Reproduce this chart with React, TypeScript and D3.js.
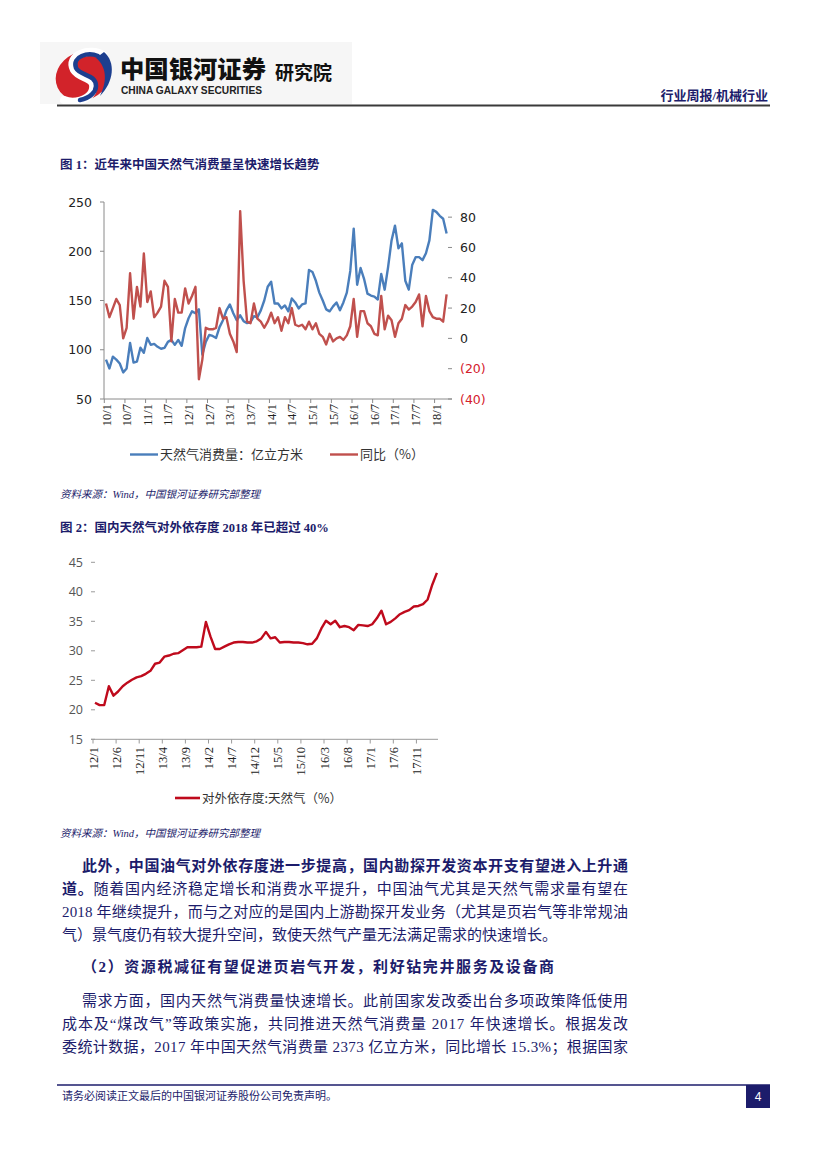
import React from "react";
import * as d3 from "d3";

// ---------- Chart 1 data (monthly, 2010/1 – 2018/4) ----------
const consumption: number[] = [
  90, 81, 93, 90, 86, 77, 81, 107, 87, 88, 102, 97,
  112, 105, 106, 103, 101, 102, 108, 110, 105, 110, 104, 122,
  132, 139, 137, 141, 95, 108, 115, 114, 112, 123, 130, 140,
  146, 137, 130, 135, 129, 127, 128, 134, 133, 140, 150, 164,
  169, 147, 147, 142, 145, 139, 152, 148, 142, 146, 147, 181,
  179, 170, 158, 150, 141, 139, 144, 148, 140, 148, 158, 180,
  223, 166, 183, 172, 157, 155, 154, 151, 177, 161, 184, 211,
  226, 203, 208, 170, 161, 186, 194, 194, 191, 198, 211, 242,
  240, 236, 233, 218,
];
const yoy: number[] = [
  23, 14, 20, 26, 22, 0, 7, 43, 13, 34, 21, 56,
  24, 31, 14, 17, 21, 38, 34, -2, 26, 17, 17, 33,
  23, 28, 34, -27, -14, 7, 6, 6, 7, 20, 13, 14,
  3, -2, -9, 84, 38, 11, 10, 23, 13, 11, 7, 11,
  17, 10, 14, 5, 14, 10, 20, 9, 8, 9, 6, 11,
  6, 10, 3, 1, -4, 3, -2, 0, 1, -1, 2, 8,
  26, 1, 18, 18, 10, 8, 3, 2, 28, 6, 15, 12,
  1, 10, 13, 22, 19, 21, 24, 29, 8, 28, 18, 14,
  13, 13, 11, 29,
];
const xLabels1: string[] = [
  "10/1", "10/7", "11/1", "11/7", "12/1", "12/7", "13/1", "13/7", "14/1",
  "14/7", "15/1", "15/7", "16/1", "16/7", "17/1", "17/7", "18/1",
];
const leftTicks1: number[] = [50, 100, 150, 200, 250];
const rightTicks1: number[] = [-40, -20, 0, 20, 40, 60, 80];
const legend1: string[] = ["天然气消费量：亿立方米", "同比（%）"];

// ---------- Chart 2 data (monthly, 2012/1 – 2018/3) ----------
const dependency: number[] = [
  21.2, 20.8, 20.8, 24.0, 22.4, 23.1, 24.0, 24.6, 25.1, 25.5, 25.7, 26.1,
  26.6, 27.8, 28.0, 29.0, 29.2, 29.5, 29.6, 30.1, 30.6, 30.6, 30.6, 30.7,
  34.9, 32.4, 30.3, 30.3, 30.7, 31.1, 31.4, 31.5, 31.5, 31.4, 31.4, 31.6,
  32.1, 33.2, 32.1, 32.3, 31.4, 31.5, 31.5, 31.4, 31.4, 31.3, 31.1, 31.2,
  32.1, 33.8, 35.1, 34.5, 35.1, 34.0, 34.2, 34.0, 33.5, 34.4, 34.3, 34.2,
  34.5, 35.5, 36.8, 34.5, 34.9, 35.5, 36.2, 36.6, 36.9, 37.5, 37.6, 37.9,
  38.7, 41.2, 43.2,
];
const xLabels2: string[] = [
  "12/1", "12/6", "12/11", "13/4", "13/9", "14/2", "14/7", "14/12",
  "15/5", "15/10", "16/3", "16/8", "17/1", "17/6", "17/11",
];
const yTicks2: number[] = [15, 20, 25, 30, 35, 40, 45];
const legend2 = "对外依存度:天然气（%）";

const NAVY = "#1c1c6b";
const CJK = "'Liberation Serif','Noto Sans CJK SC',serif";
const CJKS = "'Noto Sans CJK SC',sans-serif";

function Chart1() {
  const x = d3.scaleLinear().domain([0, consumption.length - 1]).range([106, 446.6]);
  const yL = d3.scaleLinear().domain([50, 250]).range([399, 202]);
  const yR = d3.scaleLinear().domain([-40, 90]).range([399, 202]);
  const lineL = d3.line<number>().x((_, i) => x(i)).y((d) => yL(d));
  const lineR = d3.line<number>().x((_, i) => x(i)).y((d) => yR(d));
  const axisColor = "#8a8a8a";
  return (
    <g>
      <line x1={104} x2={104} y1={202} y2={399} stroke={axisColor} strokeWidth={1} />
      {leftTicks1.map((t) => (
        <g key={"l" + t}>
          <line x1={100} x2={104} y1={yL(t)} y2={yL(t)} stroke={axisColor} />
          <text x={92} y={yL(t) + 4.5} textAnchor="end" fontSize={12.5} fontFamily="'DejaVu Sans',sans-serif" fill="#222">
            {t}
          </text>
        </g>
      ))}
      {rightTicks1.map((t) => (
        <g key={"r" + t}>
          <line x1={448} x2={452} y1={yR(t)} y2={yR(t)} stroke={axisColor} />
          <text x={460} y={yR(t) + 4.5} fontSize={12.5} fontFamily="'DejaVu Sans',sans-serif" fill={t < 0 ? "#d4202c" : "#222"}>
            {t < 0 ? `(${Math.abs(t)})` : t}
          </text>
        </g>
      ))}
      <line x1={104} x2={452} y1={399} y2={399} stroke={axisColor} />
      {xLabels1.map((lab, k) => {
        const xi = x(k * 6);
        return (
          <g key={lab}>
            <line x1={xi - 1.7} x2={xi - 1.7} y1={399} y2={403} stroke={axisColor} />
            <text
              transform={`translate(${xi + 4.5},${404}) rotate(-90)`}
              textAnchor="end"
              fontSize={12.5}
              fontFamily="'Liberation Serif',serif"
              fill="#222"
            >
              {lab}
            </text>
          </g>
        );
      })}
      <path d={lineL(consumption) || ""} fill="none" stroke="#4a7ebb" strokeWidth={2.4} strokeLinejoin="round" />
      <path d={lineR(yoy) || ""} fill="none" stroke="#c0504d" strokeWidth={2.4} strokeLinejoin="round" />
      <line x1={130} x2={158} y1={454.5} y2={454.5} stroke="#4a7ebb" strokeWidth={2.4} />
      <text x={160} y={459} fontSize={13} fontFamily={CJKS} fill="#333">{legend1[0]}</text>
      <line x1={330} x2={358} y1={454.5} y2={454.5} stroke="#c0504d" strokeWidth={2.4} />
      <text x={360} y={459} fontSize={13} fontFamily={CJKS} fill="#333">{legend1[1]}</text>
    </g>
  );
}

function Chart2() {
  const x = d3.scaleLinear().domain([0, dependency.length - 1]).range([95, 436.9]);
  const y = d3.scaleLinear().domain([15, 45]).range([739.3, 562.3]);
  const line = d3.line<number>().x((_, i) => x(i)).y((d) => y(d));
  const axisColor = "#9a9a9a";
  return (
    <g>
      {yTicks2.map((t) => (
        <g key={t}>
          <line x1={91} x2={95} y1={y(t)} y2={y(t)} stroke={axisColor} />
          <text x={83} y={y(t) + 4.5} textAnchor="end" fontSize={12.5} fontFamily="'Open Sans',sans-serif" fill="#555">
            {t}
          </text>
        </g>
      ))}
      <line x1={91} x2={438} y1={739.3} y2={739.3} stroke={axisColor} />
      {xLabels2.map((lab, k) => {
        const xi = x(k * 5) - 2;
        return (
          <g key={lab}>
            <line x1={xi} x2={xi} y1={739.3} y2={743.5} stroke={axisColor} />
            <text
              transform={`translate(${xi + 4.5},${747}) rotate(-90)`}
              textAnchor="end"
              fontSize={12.5}
              fontFamily="'Liberation Serif',serif"
              fill="#222"
            >
              {lab}
            </text>
          </g>
        );
      })}
      <path d={line(dependency) || ""} fill="none" stroke="#bf0a1c" strokeWidth={2.4} strokeLinejoin="round" />
      <line x1={175} x2={200} y1={798} y2={798} stroke="#bf0a1c" strokeWidth={2.6} />
      <text x={202} y={802.5} fontSize={12.5} fontFamily={CJKS} fill="#333">{legend2}</text>
    </g>
  );
}

function Header() {
  return (
    <g>
      <rect x={40} y={42} width={312} height={62} fill="#f6f6f6" />
      <g>
        <ellipse cx={83} cy={76} rx={28} ry={24} fill="#d2232a" transform="rotate(-25 83 76)" />
        <path d="M103 55 C 90 47, 66 55, 74 70 C 80 80, 98 76, 92 92 C 88 100, 74 104, 64 100"
          fill="none" stroke="#ffffff" strokeWidth={8} strokeLinecap="round" />
        <path d="M104 52 C 116 62, 114 82, 100 96 C 108 80, 106 66, 96 58 Z" fill="#1d3f8f" />
        <path d="M98 56 C 88 52, 72 56, 76 68 C 80 76, 96 74, 96 86 C 96 92, 90 98, 80 100"
          fill="none" stroke="#1d3f8f" strokeWidth={4.5} strokeLinecap="round" />
      </g>
      <text x={120} y={78} fontSize={24} fontWeight={900} fontFamily={CJKS} fill="#111" textLength={146} lengthAdjust="spacingAndGlyphs">
        中国银河证券
      </text>
      <text x={121} y={93.5} fontSize={10} fontWeight="bold" fontFamily="'Liberation Sans',Arial,sans-serif" fill="#222" textLength={141} lengthAdjust="spacingAndGlyphs">
        CHINA GALAXY SECURITIES
      </text>
      <text x={275} y={80} fontSize={19} fontWeight={700} fontFamily={CJKS} fill="#111">
        研究院
      </text>
      <text x={768} y={100} textAnchor="end" fontSize={13} fontWeight="bold" fontFamily={CJK} fill={NAVY}>
        行业周报/机械行业
      </text>
      <line x1={57} x2={770} y1={105.5} y2={105.5} stroke="#3a3a3a" strokeWidth={2} />
    </g>
  );
}

function Body() {
  const fs = 15;
  return (
    <g fontFamily={CJK} fill={NAVY} fontSize={fs}>
      <text x={82} y={871} textLength={546} lengthAdjust="spacing" fontWeight="bold">
        此外，中国油气对外依存度进一步提高，国内勘探开发资本开支有望进入上升通
      </text>
      <text x={62} y={894} textLength={566} lengthAdjust="spacing">
        <tspan fontWeight="bold">道。</tspan>
        <tspan>随着国内经济稳定增长和消费水平提升，中国油气尤其是天然气需求量有望在</tspan>
      </text>
      <text x={62} y={917} textLength={566} lengthAdjust="spacing">
        2018 年继续提升，而与之对应的是国内上游勘探开发业务（尤其是页岩气等非常规油
      </text>
      <text x={62} y={940}>
        气）景气度仍有较大提升空间，致使天然气产量无法满足需求的快速增长。
      </text>
      <text x={82} y={972} fontWeight="bold" textLength={472} lengthAdjust="spacing">
        （2）资源税减征有望促进页岩气开发，利好钻完井服务及设备商
      </text>
      <text x={82} y={1006} textLength={546} lengthAdjust="spacing">
        需求方面，国内天然气消费量快速增长。此前国家发改委出台多项政策降低使用
      </text>
      <text x={62} y={1029} textLength={566} lengthAdjust="spacing">
        成本及“煤改气”等政策实施，共同推进天然气消费量 2017 年快速增长。根据发改
      </text>
      <text x={62} y={1052} textLength={566} lengthAdjust="spacing">
        委统计数据，2017 年中国天然气消费量 2373 亿立方米，同比增长 15.3%；根据国家
      </text>
    </g>
  );
}

export default function App() {
  return (
    <svg
      width={827}
      height={1169}
      viewBox="0 0 827 1169"
      style={{ position: "absolute", left: 0, top: 0, background: "#fff" }}
    >
      <rect x={0} y={0} width={827} height={1169} fill="#fff" />
      <Header />
      <text x={60} y={169} fontSize={12.5} fontWeight="bold" fontFamily={CJK} fill={NAVY}>
        图 1：近年来中国天然气消费量呈快速增长趋势
      </text>
      <Chart1 />
      <text x={60} y={498} fontSize={10.5} fontStyle="italic" fontFamily={CJK} fill={NAVY}>
        资料来源：Wind，中国银河证券研究部整理
      </text>
      <text x={60} y={532} fontSize={12.5} fontWeight="bold" fontFamily={CJK} fill={NAVY}>
        图 2：国内天然气对外依存度 2018 年已超过 40%
      </text>
      <Chart2 />
      <text x={60} y={837} fontSize={10.5} fontStyle="italic" fontFamily={CJK} fill={NAVY}>
        资料来源：Wind，中国银河证券研究部整理
      </text>
      <Body />
      <line x1={57} x2={770} y1={1085} y2={1085} stroke={NAVY} strokeWidth={1.5} />
      <text x={62} y={1100} fontSize={11} fontFamily={CJK} fill={NAVY}>
        请务必阅读正文最后的中国银河证券股份公司免责声明。
      </text>
      <rect x={746} y={1085} width={24} height={23} fill={NAVY} />
      <text x={758} y={1101} textAnchor="middle" fontSize={12} fontFamily="'Liberation Sans',sans-serif" fill="#fff">
        4
      </text>
    </svg>
  );
}
